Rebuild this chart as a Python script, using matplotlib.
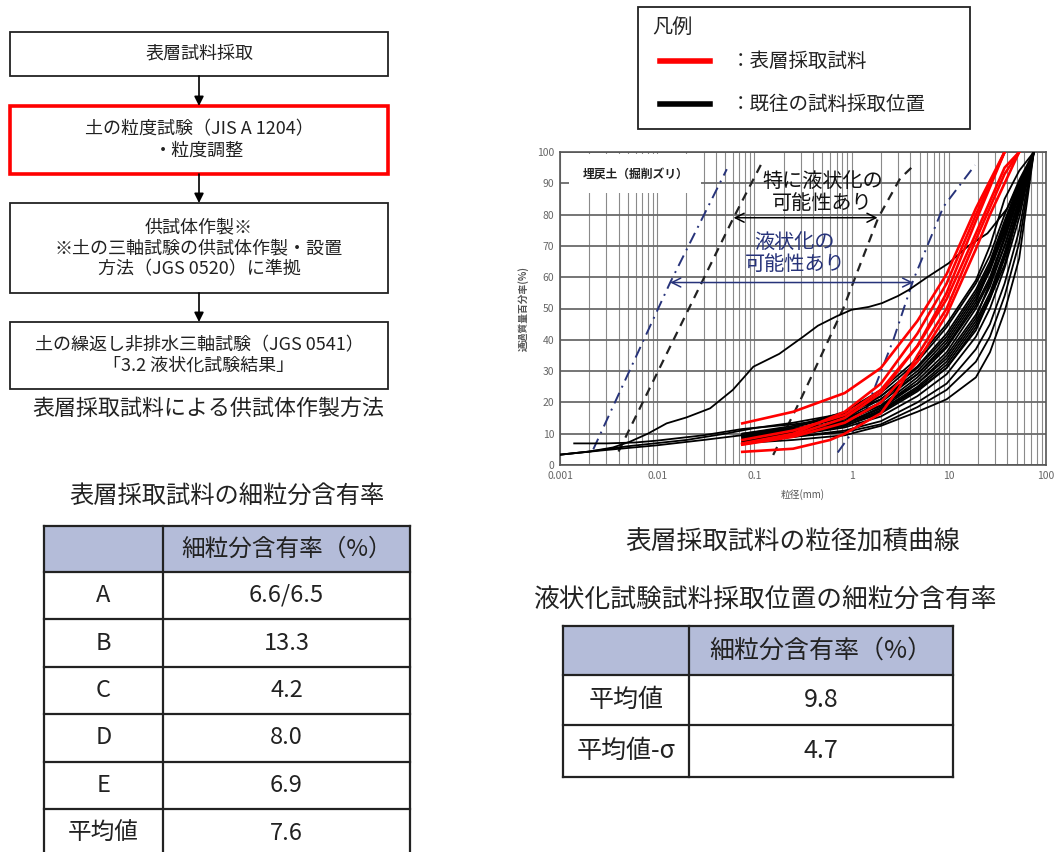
import matplotlib
matplotlib.use("Agg")
import matplotlib.pyplot as plt
from matplotlib.patches import Rectangle
import numpy as np

plt.rcParams['font.family'] = ['Noto Sans CJK JP', 'DejaVu Sans']

# ---- data: grading curves (particle size mm, percent passing) ----
sieves = [0.075, 0.25, 0.85, 2, 4.75, 9.5, 19, 26.5, 37.5, 53, 75]
black_curves = [
    [7.0, 8.0, 9.5, 12.5, 17.0, 21.0, 28.0, 36.0, 49.0, 66.0, 100],
    [7.5, 9.0, 11.0, 14.0, 20.0, 26.0, 37.0, 45.0, 58.0, 75.0, 100],
    [8.0, 9.5, 12.0, 15.5, 22.0, 29.0, 41.0, 50.0, 63.0, 79.0, 100],
    [8.5, 10.0, 12.5, 16.5, 23.5, 31.0, 44.0, 53.0, 66.0, 81.0, 100],
    [9.0, 10.5, 13.0, 17.5, 25.0, 33.0, 46.0, 55.0, 68.0, 83.0, 100],
    [9.5, 11.0, 13.5, 18.0, 26.0, 35.0, 48.0, 57.0, 70.0, 84.0, 100],
    [8.0, 10.0, 13.0, 18.5, 27.0, 36.0, 50.0, 59.0, 72.0, 86.0, 100],
    [9.0, 11.0, 14.0, 19.0, 28.0, 37.5, 51.0, 60.0, 73.0, 87.0, 100],
    [8.5, 10.5, 14.5, 20.0, 29.0, 39.0, 53.0, 62.0, 75.0, 88.0, 100],
    [9.5, 11.5, 15.0, 21.0, 30.0, 40.0, 54.0, 63.0, 76.0, 89.0, 100],
    [9.0, 11.0, 15.5, 22.0, 31.5, 42.0, 56.0, 65.0, 78.0, 90.0, 100],
    [10.0, 12.0, 16.0, 23.0, 33.0, 44.0, 58.0, 67.0, 80.0, 91.0, 100],
    [9.5, 12.0, 17.0, 24.0, 34.0, 45.0, 59.0, 70.0, 85.0, 94.0, 100],
    [8.0, 9.0, 10.5, 13.0, 18.5, 24.0, 33.0, 41.0, 54.0, 71.0, 100],
    [7.5, 9.5, 12.5, 17.0, 24.5, 32.0, 45.0, 54.0, 67.0, 82.0, 100],
    [10.0, 12.5, 16.5, 22.0, 31.0, 41.0, 55.0, 64.0, 77.0, 89.0, 100],
]

# long black curves starting in the fine range
long_a_x = [0.001, 0.002, 0.005, 0.01, 0.02, 0.05, 0.1, 0.25, 0.85, 2, 4.75, 9.5, 19, 37.5, 75]
long_a_y = [3.3, 4.3, 6.0, 7.0, 8.0, 10.0, 11.8, 13.5, 16.5, 21.0, 29.0, 38.0, 52.0, 74.0, 100]
long_b_x = [0.0014, 0.003, 0.006, 0.01, 0.03, 0.075, 0.25, 0.85, 2, 4.75, 9.5, 19, 37.5, 75]
long_b_y = [6.9, 6.9, 7.2, 7.8, 9.5, 11.5, 13.0, 15.0, 19.0, 26.0, 34.0, 47.0, 70.0, 100]
long_c_x = [0.001, 0.003, 0.01, 0.03, 0.1, 0.25, 0.85, 2, 4.75, 9.5, 19, 37.5, 75]
long_c_y = [3.3, 4.8, 6.3, 8.0, 10.0, 11.5, 13.5, 17.0, 24.0, 31.0, 43.0, 64.0, 100]
fine_x = [0.001, 0.002, 0.0035, 0.0052, 0.008, 0.0125, 0.02, 0.035, 0.06, 0.0975, 0.18,
          0.318, 0.45, 0.7, 1.0, 1.5, 2.05, 3.0, 3.9, 6, 10, 15.6, 25, 40, 75]
fine_y = [3.3, 4.3, 5.6, 7.4, 10.0, 13.3, 15.2, 18.1, 24.0, 31.4, 35.5, 41.0, 44.5, 47.5,
          49.6, 50.5, 51.7, 54.0, 56.0, 60.0, 64.5, 69.8, 74.0, 82.0, 100]

# red: surface samples
red_x = [
    [0.075, 0.25, 0.85, 2, 4.75, 9.5, 19, 37.5],
    [0.075, 0.25, 0.85, 2, 4.75, 9.5, 19, 26.5, 37.5, 53],
    [0.075, 0.25, 0.85, 2, 4.75, 9.5, 19, 37.5],
    [0.075, 0.25, 0.6, 0.85, 2, 3, 4.75, 9.5, 19, 37.5, 53],
    [0.075, 0.25, 0.85, 2, 4.75, 9.5, 19, 37.5, 53],
    [0.075, 0.25, 0.85, 2, 4.75, 9.5, 19, 37.5],
]
red_y = [
    [6.6, 9.5, 15.0, 23.0, 38.0, 55.0, 78.0, 100],
    [6.5, 9.0, 13.5, 20.0, 33.0, 48.0, 69.0, 80.0, 90.0, 100],
    [13.3, 17.0, 23.0, 31.0, 46.0, 61.0, 82.0, 100],
    [4.2, 5.2, 8.0, 10.0, 16.5, 24.0, 35.0, 50.0, 72.0, 93.0, 100],
    [8.0, 11.0, 16.0, 24.0, 38.0, 53.0, 74.0, 95.0, 100],
    [6.9, 10.0, 17.0, 26.0, 42.0, 58.0, 80.0, 100],
]

# liquefaction boundary curves
blue_l_x = [0.0022, 0.0136, 0.052]
blue_l_y = [5.0, 58.3, 94.5]
dash_l_x = [0.004, 0.0287, 0.061, 0.117]
dash_l_y = [4.3, 58.3, 79.0, 96.0]
dash_r_x = [0.156, 0.3, 0.82, 1.88, 3.15, 4.6]
dash_r_y = [3.2, 21.0, 50.0, 79.0, 91.5, 96.4]
blue_r_x = [0.72, 1.32, 2.69, 4.3, 8.8, 18.6]
blue_r_y = [4.0, 15.4, 40.0, 59.0, 82.5, 95.8]

# tables
table1_rows = ['A', 'B', 'C', 'D', 'E', '平均値']
table1_vals = ['6.6/6.5', '13.3', '4.2', '8.0', '6.9', '7.6']
table2_rows = ['平均値', '平均値-σ']
table2_vals = ['9.8', '4.7']
header = '細粒分含有率（%）'

flow_steps = [
    '表層試料採取',
    '土の粒度試験（JIS A 1204）\n・粒度調整',
    '供試体作製※\n※土の三軸試験の供試体作製・設置\n方法（JGS 0520）に準拠',
    '土の繰返し非排水三軸試験（JGS 0541）\n「3.2 液状化試験結果」',
]

fig = plt.figure(figsize=(10.6, 8.52), dpi=100)
bg = fig.add_axes([0, 0, 1, 1])
bg.set_xlim(0, 1060)
bg.set_ylim(852, 0)
bg.axis('off')

# ---- flowchart ----
box_y = [(32, 76), (106, 174), (203, 293), (322, 389)]
for i, (txt, (y0, y1)) in enumerate(zip(flow_steps, box_y)):
    red = i == 1
    bg.add_patch(Rectangle((10, y0), 378, y1 - y0, fill=False,
                           ec='red' if red else '#222222', lw=2.6 if red else 1.3))
    bg.text(199, (y0 + y1) / 2, txt, ha='center', va='center', fontsize=13,
            color='#222222', linespacing=1.2)
    if i < len(box_y) - 1:
        bg.annotate('', xy=(199, box_y[i + 1][0]), xytext=(199, y1),
                    arrowprops=dict(arrowstyle='-|>', color='black', lw=1.2, mutation_scale=14,
                                    shrinkA=0, shrinkB=0))
bg.text(208, 409, '表層採取試料による供試体作製方法', ha='center', va='center', fontsize=15.8,
        color='#222222')

# ---- table 1 ----
hdr_fill = '#b4bcd9'
bg.text(227, 497, '表層採取試料の細粒分含有率', ha='center', va='center', fontsize=17.5, color='#222222')
t1x = [44, 163, 410]
t1y = [526, 572, 619, 667, 714, 762, 809, 857]
bg.add_patch(Rectangle((t1x[0], t1y[0]), t1x[2] - t1x[0], t1y[1] - t1y[0], fc=hdr_fill, ec='none'))
for y in t1y:
    bg.plot([t1x[0], t1x[2]], [y, y], color='#222222', lw=1.6)
for x in t1x:
    bg.plot([x, x], [t1y[0], t1y[-1]], color='#222222', lw=1.6)
bg.text((t1x[1] + t1x[2]) / 2, (t1y[0] + t1y[1]) / 2, header, ha='center', va='center',
        fontsize=17, color='#222222')
for k, (lab, val) in enumerate(zip(table1_rows, table1_vals)):
    yc = (t1y[k + 1] + t1y[k + 2]) / 2
    bg.text((t1x[0] + t1x[1]) / 2, yc, lab, ha='center', va='center', fontsize=17, color='#222222')
    bg.text((t1x[1] + t1x[2]) / 2, yc, val, ha='center', va='center', fontsize=17, color='#222222')

# ---- table 2 ----
bg.text(793, 543, '表層採取試料の粒径加積曲線', ha='center', va='center', fontsize=18.5, color='#222222')
bg.text(766, 601, '液状化試験試料採取位置の細粒分含有率', ha='center', va='center', fontsize=18.5,
        color='#222222')
t2x = [563, 689, 953]
t2y = [626, 675, 725, 777]
bg.add_patch(Rectangle((t2x[0], t2y[0]), t2x[2] - t2x[0], t2y[1] - t2y[0], fc=hdr_fill, ec='none'))
for y in t2y:
    bg.plot([t2x[0], t2x[2]], [y, y], color='#222222', lw=1.6)
for x in t2x:
    bg.plot([x, x], [t2y[0], t2y[-1]], color='#222222', lw=1.6)
bg.text((t2x[1] + t2x[2]) / 2, (t2y[0] + t2y[1]) / 2, header, ha='center', va='center',
        fontsize=18, color='#222222')
for k, (lab, val) in enumerate(zip(table2_rows, table2_vals)):
    yc = (t2y[k + 1] + t2y[k + 2]) / 2
    bg.text((t2x[0] + t2x[1]) / 2, yc, lab, ha='center', va='center', fontsize=18, color='#222222')
    bg.text((t2x[1] + t2x[2]) / 2, yc, val, ha='center', va='center', fontsize=18, color='#222222')

# ---- legend ----
bg.add_patch(Rectangle((638, 7), 332, 122, fill=False, ec='#222222', lw=1.3))
bg.text(652, 27, '凡例', ha='left', va='center', fontsize=14.5, color='#222222')
bg.plot([660, 710], [61, 61], color='red', lw=4)
bg.plot([660, 710], [104, 104], color='black', lw=4)
bg.text(731, 61, '：表層採取試料', ha='left', va='center', fontsize=14, color='#222222')
bg.text(731, 104, '：既往の試料採取位置', ha='left', va='center', fontsize=14, color='#222222')

# ---- grading chart ----
ax = fig.add_axes([560 / 1060, (852 - 465) / 852, 486 / 1060, 313 / 852])
ax.set_xscale('log')
ax.set_xlim(0.001, 100)
ax.set_ylim(0, 100)
ax.set_yticks(np.arange(0, 101, 10))
ax.set_xticks([0.001, 0.01, 0.1, 1, 10, 100])
ax.set_xticklabels(['0.001', '0.01', '0.1', '1', '10', '100'])
ax.grid(True, which='major', axis='y', color='#6a6a6a', lw=1.3)
ax.grid(True, which='both', axis='x', color='#8a8a8a', lw=0.8)
ax.tick_params(which='both', length=0, labelsize=7.5, labelcolor='#666666', pad=4)
for s in ax.spines.values():
    s.set_color('#555555')
    s.set_linewidth(1.2)
ax.set_axisbelow(True)

for ys in black_curves:
    ax.plot(sieves, ys, color='black', lw=1.3, zorder=3)
ax.plot(long_a_x, long_a_y, color='black', lw=1.3, zorder=3)
ax.plot(long_b_x, long_b_y, color='black', lw=1.3, zorder=3)
ax.plot(long_c_x, long_c_y, color='black', lw=1.3, zorder=3)
ax.plot(fine_x, fine_y, color='black', lw=1.3, zorder=3)
for xs, ys in zip(red_x, red_y):
    ax.plot(xs, ys, color='red', lw=1.9, zorder=4)

navy = '#27337a'
ax.plot(blue_l_x, blue_l_y, color=navy, lw=1.4, ls=(0, (6, 3, 1, 3)), zorder=2)
ax.plot(blue_r_x, blue_r_y, color=navy, lw=1.4, ls=(0, (6, 3, 1, 3)), zorder=2)
ax.plot(dash_l_x, dash_l_y, color='#222222', lw=1.6, ls=(0, (4, 3)), zorder=2)
ax.plot(dash_r_x, dash_r_y, color='#222222', lw=1.6, ls=(0, (4, 3)), zorder=2)

ax.annotate('', xy=(1.85, 79), xytext=(0.061, 79),
            arrowprops=dict(arrowstyle='<->', color='black', lw=1.1, mutation_scale=16,
                            shrinkA=0, shrinkB=0), zorder=5)
ax.annotate('', xy=(4.3, 58.3), xytext=(0.0136, 58.3),
            arrowprops=dict(arrowstyle='<->', color=navy, lw=1.1, mutation_scale=16,
                            shrinkA=0, shrinkB=0), zorder=5)
ax.text(0.5, 87, '特に液状化の\n可能性あり', ha='center', va='center', fontsize=14.5,
        color='#111111', linespacing=1.05, zorder=6)
ax.text(0.26, 67.5, '液状化の\n可能性あり', ha='center', va='center', fontsize=14.5,
        color=navy, linespacing=1.05, zorder=6)
ax.text(0.0017, 93, '埋戻土（掘削ズリ）', ha='left', va='center', fontsize=8.5,
        fontweight='bold', color='#222222', zorder=6,
        bbox=dict(boxstyle='square,pad=1.1', fc='white', ec='none'))
ax.set_xlabel('粒径(mm)', fontsize=7, color='#555555', labelpad=6)
ax.set_ylabel('通過質量百分率(%)', fontsize=7, color='#555555', labelpad=6, fontweight='bold')

fig.savefig('out.png', dpi=100)
